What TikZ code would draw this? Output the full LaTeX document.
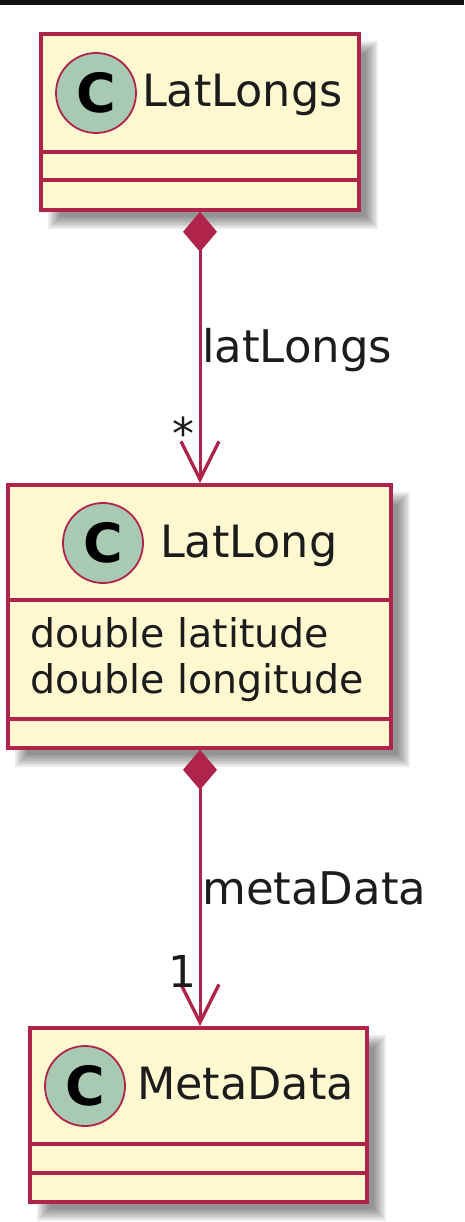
\documentclass[tikz,border=0pt]{standalone}
\usepackage{fontspec}
\setmainfont{DejaVu Sans}
\usetikzlibrary{arrows.meta}
\definecolor{umlborder}{HTML}{B0234A}
\definecolor{umlfill}{HTML}{FFF8D0}
\definecolor{umlcircle}{HTML}{A8CAB2}
\definecolor{umltext}{HTML}{1C1C1C}
\tikzset{
  classbox/.style={draw=umlborder, fill=umlfill, line width=3.6pt, rectangle, inner sep=0pt},
  divider/.style={draw=umlborder, line width=3.4pt},
  cicon/.style={circle, draw=umlborder, fill=umlcircle, line width=1.8pt, minimum size=80pt, inner sep=0pt},
  cletter/.style={inner sep=0pt, text=black, font=\fontsize{54}{60}\selectfont\bfseries},
  cname/.style={inner sep=0pt, anchor=base west, text=umltext, font=\fontsize{44.5}{52}\selectfont},
  attr/.style={inner sep=0pt, anchor=base west, text=umltext, font=\fontsize{39.5}{46}\selectfont},
  lbl/.style={inner sep=0pt, anchor=base west, text=umltext, font=\fontsize{45}{52}\selectfont},
  mult/.style={inner sep=0pt, anchor=base, text=umltext, font=\fontsize{44}{52}\selectfont},
  composition/.style={draw=umlborder, line width=3pt,
    {Diamond[length=40pt,width=34pt,line width=0pt]}-{Straight Barb[length=38pt,width=38pt,line width=3.4pt]}},
}
\newcommand{\softshadow}[4]{%
  \foreach \k in {-6,-4,...,6}{%
    \fill[black, opacity=0.075] ({#1+13-\k},{#2+13-\k}) rectangle ({#3+13+\k},{#4+13+\k});
  }%
}
\begin{document}
\begin{tikzpicture}[x=1pt,y=-1pt]
\useasboundingbox (0,0) rectangle (464,1222);
\fill[white] (0,0) rectangle (464,1222);
\fill[black!93] (0,0) rectangle (464,5);

% shadows
\softshadow{41}{34}{359}{210}
\softshadow{8}{485}{391}{748}
\softshadow{30}{1028}{367}{1202}

% LatLongs
\node[classbox, minimum width=318pt, minimum height=176pt] (latlongs) at (200,122) {};
\draw[divider] (41,152) -- (359,152);
\draw[divider] (41,180) -- (359,180);
\node[cicon] (c1) at (96,93) {};
\node[cletter] (c1l) at (c1.center) {C};
\node[cname] (n1) at (142,107) {LatLongs};

% LatLong
\node[classbox, minimum width=383pt, minimum height=263pt] (latlong) at (199.5,616.5) {};
\draw[divider] (8,600) -- (391,600);
\draw[divider] (8,719) -- (391,719);
\node[cicon] (c2) at (103,543) {};
\node[cletter] (c2l) at (c2.center) {C};
\node[cname] (n2) at (160,557) {LatLong};
\node[attr] (a1) at (30,647) {double latitude};
\node[attr] (a2) at (30,693) {double longitude};

% MetaData
\node[classbox, minimum width=337pt, minimum height=174pt] (metadata) at (198.5,1115) {};
\draw[divider] (30,1144) -- (367,1144);
\draw[divider] (30,1173) -- (367,1173);
\node[cicon] (c3) at (85,1086) {};
\node[cletter] (c3l) at (c3.center) {C};
\node[cname] (n3) at (137,1099) {MetaData};

% connectors
\draw[composition] (latlongs.south) -- (latlongs.south |- latlong.north);
\draw[composition] (latlongs.south |- latlong.south) -- (latlongs.south |- metadata.north);

% labels
\node[lbl] (l1) at (202,362) {latLongs};
\node[mult] (m1) at (183,449) {*};
\node[lbl] (l2) at (202,904) {metaData};
\node[mult] (m2) at (182,987) {1};
\end{tikzpicture}
\end{document}
